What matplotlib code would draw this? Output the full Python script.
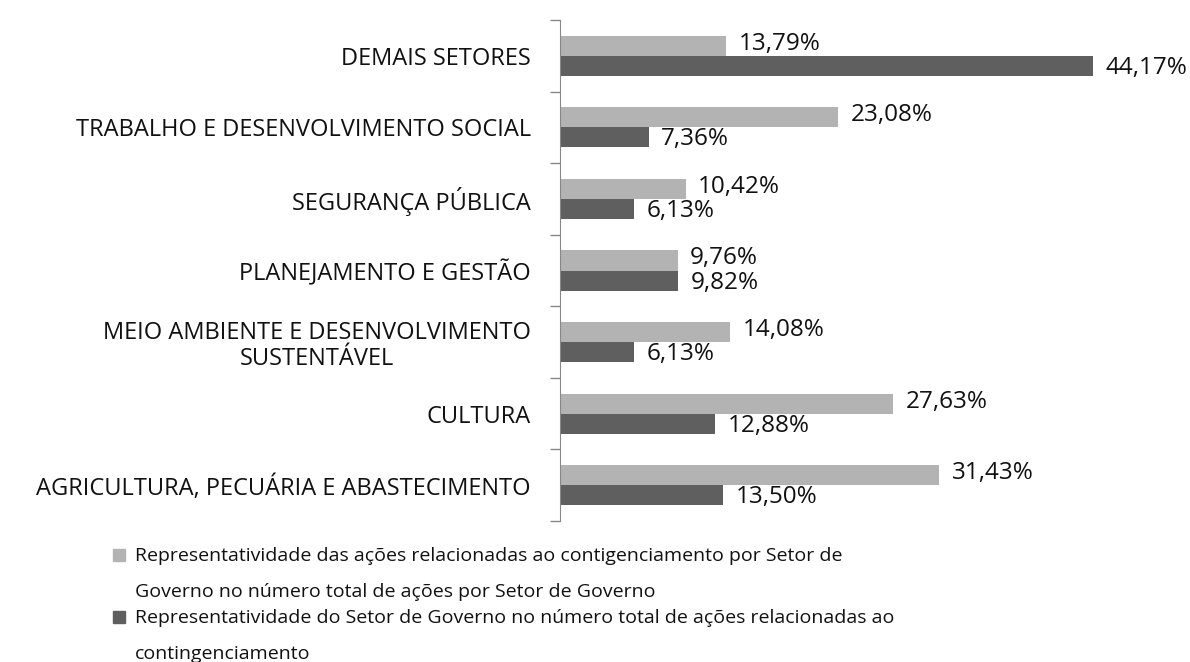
import matplotlib
matplotlib.use("Agg")
import matplotlib.pyplot as plt
from matplotlib.patches import Rectangle
import numpy as np

plt.rcParams['font.family'] = ['Open Sans', 'DejaVu Sans']

# data, bottom to top as drawn
setores = [
    "AGRICULTURA, PECUÁRIA E ABASTECIMENTO",
    "CULTURA",
    "MEIO AMBIENTE E DESENVOLVIMENTO\nSUSTENTÁVEL",
    "PLANEJAMENTO E GESTÃO",
    "SEGURANÇA PÚBLICA",
    "TRABALHO E DESENVOLVIMENTO SOCIAL",
    "DEMAIS SETORES",
]
acoes_contig = [31.43, 27.63, 14.08, 9.76, 10.42, 23.08, 13.79]
setor_no_total = [13.50, 12.88, 6.13, 9.82, 6.13, 7.36, 44.17]
legenda = [
    "Representatividade das ações relacionadas ao contigenciamento por Setor de\nGoverno no número total de ações por Setor de Governo",
    "Representatividade do Setor de Governo no número total de ações relacionadas ao\ncontingenciamento",
]
cores = ["#b3b3b3", "#5f5f5f"]

fig = plt.figure(figsize=(11.9, 6.62), dpi=100)
ax = fig.add_axes([560 / 1190, 1 - 521 / 662, 603 / 1190, 501 / 662])

y = np.arange(len(setores))
h = 0.28
series = [acoes_contig, setor_no_total]
offsets = [h / 2, -h / 2]
nudge = [1.5, -1.5]
for vals, off, cor, dy in zip(series, offsets, cores, nudge):
    bars = ax.barh(y + off, vals, height=h, color=cor)
    for b, v in zip(bars, vals):
        ax.annotate(("%.2f%%" % v).replace(".", ","),
                    (b.get_width(), b.get_y() + b.get_height() / 2),
                    xytext=(9, dy), textcoords="offset points",
                    va="center", ha="left", fontsize=17.5, color="#111111")

ax.set_xlim(0, 50)
ax.set_ylim(-0.5, len(setores) - 0.5)
ax.set_yticks(y)
ax.set_yticklabels(setores, fontsize=17, color="#111111", ha="right",
                   multialignment="center", linespacing=1.1)
ax.set_yticks(np.arange(-0.5, len(setores), 1), minor=True)
ax.tick_params(axis="y", which="major", length=0, pad=21)
ax.tick_params(axis="y", which="minor", length=7, color="#888888", width=1)
ax.set_xticks([])
for s in ["top", "right", "bottom"]:
    ax.spines[s].set_visible(False)
ax.spines["left"].set_color("#888888")

# legend drawn by hand so the marker sits on the first line
marker_y = [555, 617]
for lab, cor, my in zip(legenda, cores, marker_y):
    fig.patches.append(Rectangle((113 / 1190, 1 - (my + 6) / 662), 12 / 1190, 12 / 662,
                                 transform=fig.transFigure, color=cor))
    fig.text(135 / 1190, 1 - (my + 6) / 662, lab.split("\n")[0], fontsize=14,
             va="baseline", ha="left", color="#111111")
    fig.text(135 / 1190, 1 - (my + 42) / 662, lab.split("\n")[1], fontsize=14,
             va="baseline", ha="left", color="#111111")

fig.savefig("out.png", dpi=100)
